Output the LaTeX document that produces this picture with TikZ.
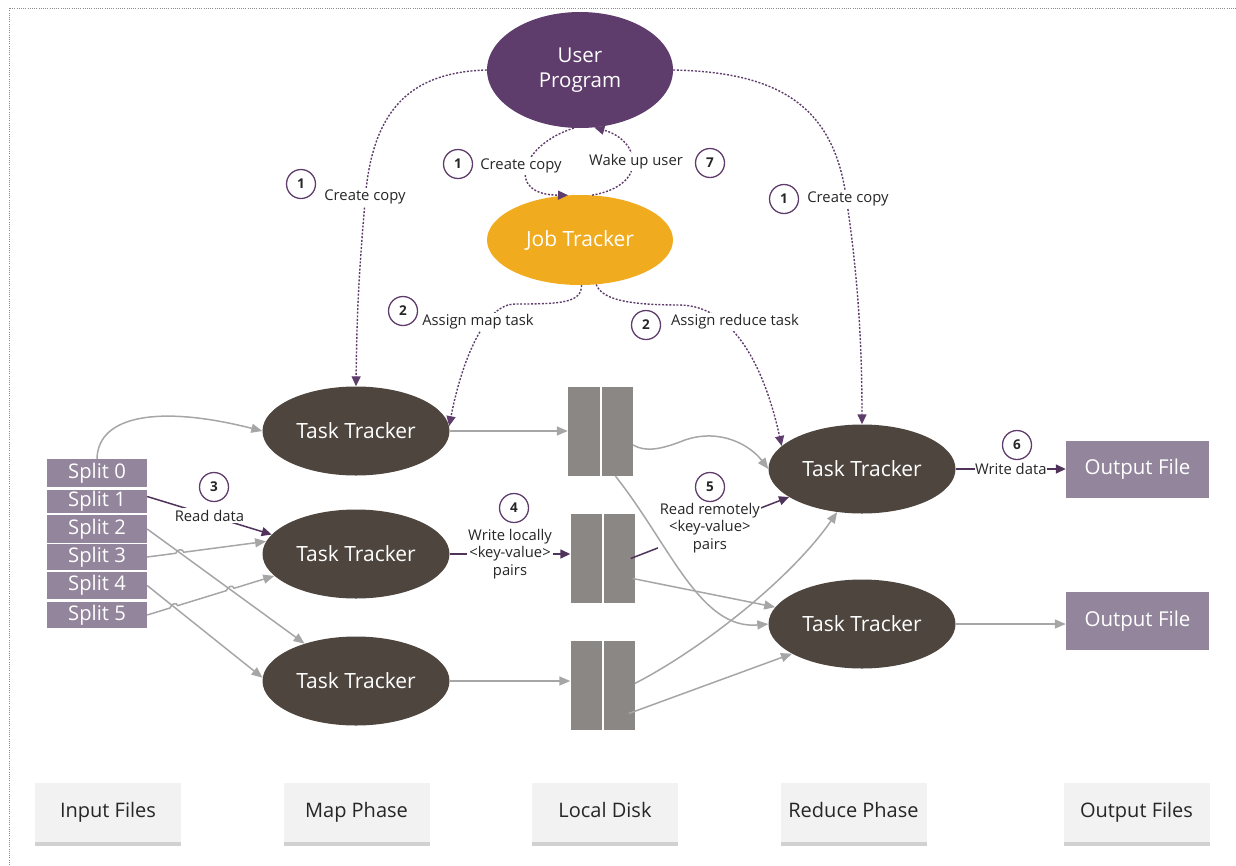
\documentclass[tikz,border=0pt]{standalone}
\usepackage{fontspec}
\setmainfont{Open Sans}
\usetikzlibrary{shapes.geometric,arrows.meta,calc,shadows}

\definecolor{userpurple}{HTML}{5E3C6B}
\definecolor{joborange}{HTML}{F0AB1E}
\definecolor{trackerbrown}{HTML}{4E453E}
\definecolor{filemauve}{HTML}{93859C}
\definecolor{diskgrey}{HTML}{8A8784}
\definecolor{flowgrey}{HTML}{A6A6A6}
\definecolor{inktext}{HTML}{262626}
\definecolor{phasefill}{HTML}{F2F2F2}
\definecolor{framegrey}{HTML}{8C8C8C}

\tikzset{
  bigtext/.style={font=\fontsize{21}{25}\selectfont},
  tracker/.style={ellipse, fill=trackerbrown, text=white, minimum width=187pt,
    minimum height=89pt, inner sep=0pt, bigtext},
  splitbox/.style={rectangle, fill=filemauve, text=white, minimum width=100pt,
    inner sep=0pt, text height=14pt, text depth=4pt, font=\fontsize{20.2}{22}\selectfont},
  outbox/.style={rectangle, fill=filemauve, text=white, minimum width=143pt,
    minimum height=57pt, inner sep=0pt, font=\fontsize{20.5}{24}\selectfont},
  diskbox/.style={rectangle, fill=diskgrey, minimum width=64pt,
    minimum height=89pt, inner sep=0pt},
  phasebox/.style={rectangle, fill=phasefill, text=inktext, minimum width=146pt,
    minimum height=59pt, inner sep=0pt, text height=14pt, text depth=4pt,
    font=\fontsize{20}{22}\selectfont,
    drop shadow={shadow xshift=0pt, shadow yshift=-4pt, fill=black!45, opacity=0.4}},
  stepnum/.style={circle, draw=userpurple, line width=1.3pt, fill=white,
    minimum size=29pt, inner sep=0pt, text=inktext,
    font=\fontsize{13.5}{13.5}\selectfont\bfseries},
  steplabel/.style={fill=white, inner sep=1.5pt, text=inktext, align=center,
    font=\fontsize{14.8}{17.5}\selectfont},
  dotflow/.style={draw=userpurple, line width=1.4pt, dash pattern=on 2pt off 1.6pt,
    -{Triangle[length=10pt,width=9pt]}},
  greyflow/.style={draw=flowgrey, line width=1.5pt,
    -{Triangle[length=11pt,width=9pt]}},
  stepflow/.style={draw=userpurple!85!black, line width=1.5pt,
    -{Triangle[length=10pt,width=9pt]}},
}

\begin{document}
\begin{tikzpicture}[x=1pt,y=-1pt]
\useasboundingbox (0,0) rectangle (1236,865);

% frame
\draw[framegrey, line width=0.8pt, dash pattern=on 1pt off 1.2pt] (9,865) -- (9,8) -- (1236,8);

% master and job tracker
\node[ellipse, fill=userpurple, text=white, minimum width=186pt, minimum height=116pt,
  inner sep=0pt, align=center, font=\fontsize{20.5}{25}\selectfont] (up) at (580,70) {User\\Program};
\node[ellipse, fill=joborange, text=white, minimum width=186pt, minimum height=90pt,
  inner sep=0pt, bigtext] (jt) at (580,240) {Job Tracker};

% map side task trackers
\node[tracker] (m1) at (356,431) {Task Tracker};
\node[tracker] (m2) at (356,554) {Task Tracker};
\node[tracker] (m3) at (356,681) {Task Tracker};

% reduce side task trackers
\node[tracker] (r1) at (862,469) {Task Tracker};
\node[tracker] (r2) at (862,624) {Task Tracker};

% output files
\node[outbox] (o1) at (1137.5,469.5) {Output File};
\node[outbox, minimum height=58pt] (o2) at (1137.5,621) {Output File};

% input splits
\node[splitbox, minimum height=28pt] (s0) at (97,473) {Split 0};
\node[splitbox, minimum height=23pt] (s1) at (97,501.5) {Split 1};
\node[splitbox, minimum height=28pt] (s2) at (97,529) {Split 2};
\node[splitbox, minimum height=26pt] (s3) at (97,557) {Split 3};
\node[splitbox, minimum height=27pt] (s4) at (97,585.5) {Split 4};
\node[splitbox, minimum height=26pt] (s5) at (97,615) {Split 5};

% local disks
\node[diskbox, minimum width=65pt] (d1) at (600.5,431.5) {};
\node[diskbox] (d2) at (602.5,558.5) {};
\node[diskbox] (d3) at (602.5,685.5) {};
\foreach \d in {d1,d2,d3}
  \draw[white, line width=2pt] (\d.north) -- (\d.south);

% phase legend
\node[phasebox] (pin)  at (108,812.5)   {Input Files};
\node[phasebox] (pmap) at (356.5,812.5) {Map Phase};
\node[phasebox] (pdsk) at (605,812.5)   {Local Disk};
\node[phasebox] (pred) at (853.5,812.5) {Reduce Phase};
\node[phasebox] (pout) at (1136.5,812.5){Output Files};

% control flow from the user program and job tracker
\draw[dotflow] (up.west) .. controls (415,72) and (375,105) .. (366,190)
  .. controls (360,260) and (357,300) .. (m1.north);
\draw[dotflow] (up.east) .. controls (770,72) and (830,100) .. (845,190)
  .. controls (856,260) and (862,330) .. (r1.north);
\draw[dotflow] (up.264) .. controls (520,145) and (505,195) .. (jt.105);
\draw[dotflow] (jt.75) .. controls (650,185) and (640,140) .. (up.-76);
\draw[dotflow] (jt.-88) .. controls +(0,18) and (560,304) .. (515,304)
  .. controls (485,304) and (462,360) .. (m1.3);
\draw[dotflow] (jt.-70) .. controls (602,300) and (630,305) .. (680,305)
  .. controls (735,306) and (765,370) .. (r1.164);

% labels of the control flow
\node[steplabel] (l1a) at (365,197) {Create copy};
\node[steplabel] (l1b) at (521,166) {Create copy};
\node[steplabel] (l7)  at (636,162) {Wake up user};
\node[steplabel] (l1c) at (848,199) {Create copy};
\node[steplabel] (l2a) at (478,322) {Assign map task};
\node[steplabel] (l2b) at (735,322) {Assign reduce task};

% numbered data flow steps
\draw[stepflow] ([yshift=5pt]s1.east) -- (m2.167)
  node[midway, steplabel] (l3) {Read data};
\draw[stepflow] (m2.east) -- (m2.east -| d2.west)
  node[midway, steplabel] (l4) {Write locally\\<key-value>\\pairs};
\draw[stepflow] ($(d2.east)+(-4,0)$) -- (r1.201)
  node[midway, steplabel] (l5) {Read remotely\\<key-value>\\pairs};
\draw[stepflow] (r1.east) -- (r1.east -| o1.west)
  node[midway, steplabel, inner sep=0.5pt] (l6) {Write data};

% splits to map trackers
\coordinate (s2e) at (s2.east);
\coordinate (s3e) at (s3.east);
\coordinate (s4e) at (s4.east);
\coordinate (s5e) at (s5.east);
\coordinate (m2a) at (m2.172);
\coordinate (m2b) at (m2.195);
\coordinate (m3a) at (m3.144);
\coordinate (m3b) at (m3.178);
\coordinate (x32) at (intersection of s3e--m2a and s2e--m3a);
\coordinate (x54) at (intersection of s5e--m2b and s4e--m3b);
\coordinate (x52) at (intersection of s5e--m2b and s2e--m3a);

\draw[greyflow] (s0.north) .. controls (98,415) and (160,405) .. (m1.west);
\draw[greyflow] (s2e) -- (m3a);
\draw[greyflow] (s4e) -- (m3b);
\draw[greyflow] (s3e) -- ($(x32)!4pt!(s3e)$) .. controls +(1,-4) and +(-1,-4) .. ($(x32)!4pt!(m2a)$) -- (m2a);
\draw[greyflow] (s5e) -- ($(x54)!4pt!(s5e)$) .. controls +(1,-4) and +(-1,-4) .. ($(x54)!4pt!(m2b)$)
  -- ($(x52)!4pt!(s5e)$) .. controls +(1,-4) and +(-1,-4) .. ($(x52)!4pt!(m2b)$) -- (m2b);

% map trackers to local disks
\draw[greyflow] (m1.east) -- (m1.east -| d1.west);
\draw[greyflow] (m3.east) -- (m3.east -| d3.west);

% local disks to reduce trackers
\draw[greyflow] ($(d1.east)+(0,13.5)$) .. controls (645,452) and (660,450) .. (685,440)
  .. controls (720,428) and (750,445) .. (r1.west);
\draw[greyflow] ($(d1.south)+(15,0)$) .. controls (670,545) and (700,630) .. (r2.west);
\draw[greyflow] ($(d2.east)+(-2,20)$) -- (r2.169);
\draw[greyflow] ($(d3.east)+(0,-2)$) .. controls (700,650) and (790,580) .. (r1.240);
\draw[greyflow] ($(d3.east)+(-6,28)$) -- (r2.203);

% reduce tracker to its output
\draw[greyflow] (r2.east) -- (r2.east -| o2.west);

% step numbers
\node[stepnum] (n1a) at (301,184) {1};
\node[stepnum] (n1b) at (458,164) {1};
\node[stepnum] (n7)  at (710,163) {7};
\node[stepnum] (n1c) at (784,199) {1};
\node[stepnum] (n2a) at (403,311) {2};
\node[stepnum] (n2b) at (646,325) {2};
\node[stepnum] (n3)  at (214,487) {3};
\node[stepnum] (n4)  at (514,508) {4};
\node[stepnum] (n5)  at (710,487) {5};
\node[stepnum] (n6)  at (1017,445) {6};
\end{tikzpicture}
\end{document}
